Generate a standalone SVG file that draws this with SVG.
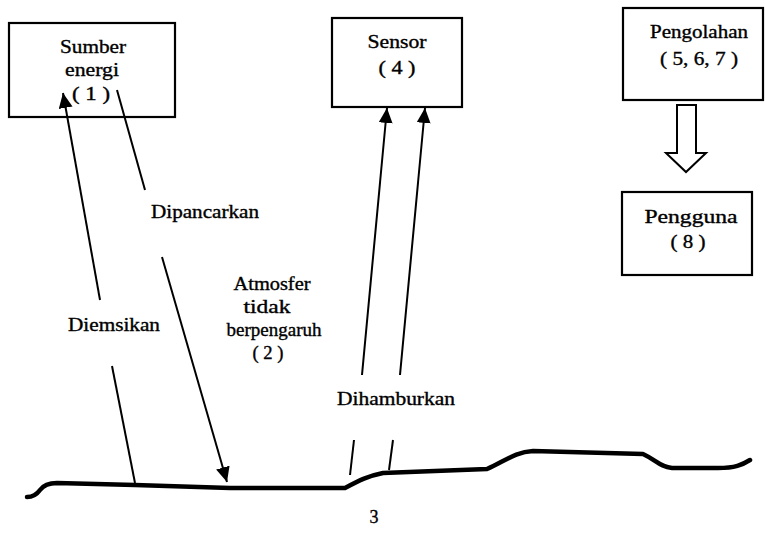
<svg xmlns="http://www.w3.org/2000/svg" width="765" height="535" viewBox="0 0 765 535">
<style>
.box{fill:#fff;stroke:#000;stroke-width:2.2}
.t{font-family:'Liberation Serif','Times New Roman','DejaVu Serif',serif;font-size:18px;fill:#000;stroke:#000;stroke-width:0.35;text-anchor:middle}
.ln{stroke:#000;stroke-width:2;fill:none}
</style>
<defs>
<marker id="ah" markerUnits="userSpaceOnUse" markerWidth="16" markerHeight="15" refX="15" refY="7" orient="auto">
<path d="M0,0 L15,7 L0,14 z" fill="#000"/>
</marker>
</defs>
<rect width="765" height="535" fill="#fff"/>
<g id="node-sumber">
<rect class="box" x="9" y="23" width="166" height="94"/>
<text class="t" x="93" y="53" textLength="66" lengthAdjust="spacingAndGlyphs">Sumber</text>
<text class="t" x="92" y="76" textLength="54" lengthAdjust="spacingAndGlyphs">energi</text>
<text class="t" x="91" y="100" textLength="38" lengthAdjust="spacingAndGlyphs">( 1 )</text>
</g>
<g id="node-sensor">
<rect class="box" x="332" y="18" width="130" height="89"/>
<text class="t" x="397" y="48" textLength="59" lengthAdjust="spacingAndGlyphs">Sensor</text>
<text class="t" x="397" y="74" textLength="37" lengthAdjust="spacingAndGlyphs">( 4 )</text>
</g>
<g id="node-pengolahan">
<rect class="box" x="623" y="8" width="140" height="92"/>
<text class="t" x="699" y="38" textLength="98" lengthAdjust="spacingAndGlyphs">Pengolahan</text>
<text class="t" x="699" y="65" textLength="78" lengthAdjust="spacingAndGlyphs">( 5, 6, 7 )</text>
</g>
<g id="node-pengguna">
<rect class="box" x="622" y="192" width="130" height="83"/>
<text class="t" x="691" y="223" textLength="93" lengthAdjust="spacingAndGlyphs">Pengguna</text>
<text class="t" x="688" y="248" textLength="35" lengthAdjust="spacingAndGlyphs">( 8 )</text>
</g>
<g id="labels">
<text class="t" x="114" y="331" textLength="92" lengthAdjust="spacingAndGlyphs">Diemsikan</text>
<text class="t" x="205" y="218" textLength="108" lengthAdjust="spacingAndGlyphs">Dipancarkan</text>
<text class="t" x="272" y="290" textLength="77" lengthAdjust="spacingAndGlyphs">Atmosfer</text>
<text class="t" x="267" y="313" textLength="47" lengthAdjust="spacingAndGlyphs">tidak</text>
<text class="t" x="274" y="336" textLength="95" lengthAdjust="spacingAndGlyphs">berpengaruh</text>
<text class="t" x="268" y="359" textLength="31" lengthAdjust="spacingAndGlyphs">( 2 )</text>
<text class="t" x="396" y="405" textLength="118" lengthAdjust="spacingAndGlyphs">Dihamburkan</text>
<text class="t" x="374" y="523">3</text>
</g>
<g id="connectors">
<line class="ln" x1="100" y1="300" x2="63" y2="93" marker-end="url(#ah)"/>
<line class="ln" x1="135" y1="483" x2="112" y2="366"/>
<line class="ln" x1="117" y1="90" x2="145" y2="190"/>
<line class="ln" x1="162" y1="257" x2="227" y2="482" marker-end="url(#ah)"/>
<line class="ln" x1="362" y1="375" x2="387" y2="108" marker-end="url(#ah)"/>
<line class="ln" x1="354" y1="440" x2="350" y2="475"/>
<line class="ln" x1="400" y1="375" x2="425" y2="108" marker-end="url(#ah)"/>
<line class="ln" x1="393" y1="440" x2="389" y2="470"/>
<polygon points="677,105 696,105 696,153 706,153 686,172 666,153 677,153" fill="#fff" stroke="#000" stroke-width="2"/>
</g>
<g id="ground">
<path d="M27,497 Q35,497 40,490 Q45,483 57,483 L135,485 L230,488 L345,488 C360,480 368,476 383,473 L487,469 C505,461 515,452 533,451 L643,454 C656,460 660,467 672,468 L718,468 C735,468 742,465 750,460" fill="none" stroke="#000" stroke-width="4.5" stroke-linejoin="round" stroke-linecap="round"/>
</g>
</svg>
